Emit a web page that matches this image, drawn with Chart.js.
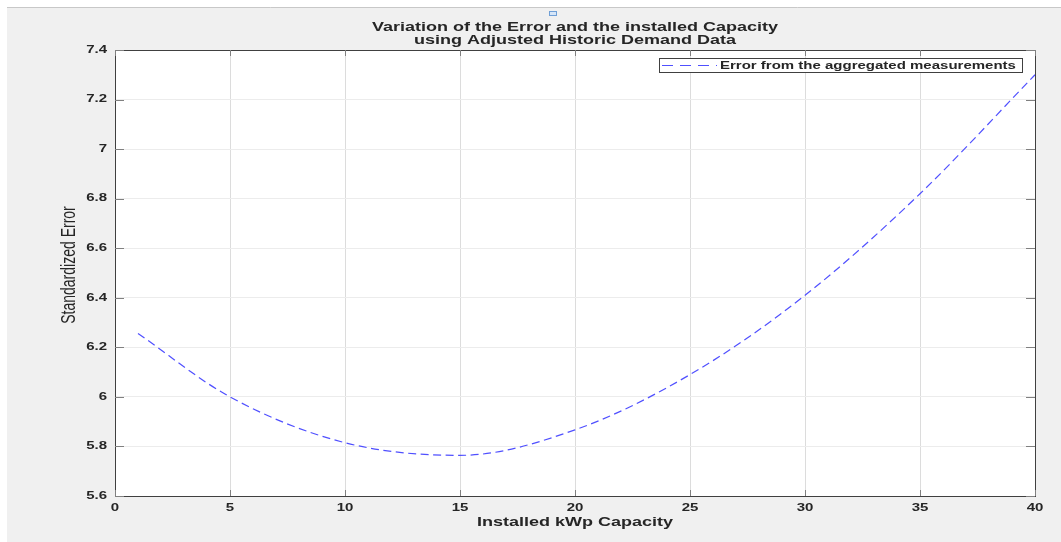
<!DOCTYPE html>
<html>
<head>
<meta charset="utf-8">
<script src="https://cdn.jsdelivr.net/npm/chart.js@4.4.1/dist/chart.umd.min.js"></script>
<style>
  html, body { margin: 0; padding: 0; background: #ffffff; overflow: hidden; }
  #wrap { width: 1061px; height: 542px; }
</style>
</head>
<body>
<div id="wrap"><canvas id="c" width="1061" height="542"></canvas></div>
<script>
// Series: standardized error versus installed PV capacity
const capacityKWp = [1, 5, 10, 15, 20, 25, 30, 35, 40];
const standardizedError = [6.256, 6.0, 5.815, 5.764, 5.867, 6.09, 6.41, 6.82, 7.30];

// Axis ticks
const xTickValues = [0, 5, 10, 15, 20, 25, 30, 35, 40];
const xTickLabels = ['0', '5', '10', '15', '20', '25', '30', '35', '40'];
const yTickValues = [5.6, 5.8, 6.0, 6.2, 6.4, 6.6, 6.8, 7.0, 7.2, 7.4];
const yTickLabels = ['5.6', '5.8', '6', '6.2', '6.4', '6.6', '6.8', '7', '7.2', '7.4'];

// Texts
const titleLines = ['Variation of the Error and the installed Capacity', 'using Adjusted Historic Demand Data'];
const xAxisTitle = 'Installed kWp Capacity';
const yAxisTitle = 'Standardized Error';
const seriesName = 'Error from the aggregated measurements';

const FONT = '"Liberation Sans", Arial, Helvetica, sans-serif';
const TEXT_COLOR = '#262626';
const SX = 1.5; // wide lettering used for all figure text
const LINE_COLOR = '#5050ff';
const LINE_DASH = [8, 4.5];
const LEGEND_DASH = [11, 7];

function wideText(ctx, text, x, y, font, align, baseline, sx) {
  ctx.save();
  ctx.font = font;
  ctx.fillStyle = TEXT_COLOR;
  ctx.textAlign = align;
  ctx.textBaseline = baseline;
  ctx.translate(x, y);
  ctx.scale(sx, 1);
  ctx.fillText(text, 0, 0);
  ctx.restore();
}

const figurePlugin = {
  id: 'figureDecor',
  beforeDraw(chart) {
    const { ctx, chartArea: a } = chart;
    ctx.save();
    ctx.fillStyle = '#ffffff';
    ctx.fillRect(0, 0, chart.width, chart.height);
    ctx.fillStyle = '#f0f0f0';
    ctx.fillRect(7, 7, chart.width - 7, chart.height - 7);
    ctx.strokeStyle = '#c8c8c8';
    ctx.lineWidth = 1;
    ctx.beginPath();
    ctx.moveTo(7, 7.5);
    ctx.lineTo(chart.width, 7.5);
    ctx.stroke();
    ctx.fillStyle = '#ffffff';
    ctx.fillRect(a.left, a.top, a.right - a.left, a.bottom - a.top);
    ctx.restore();
  },
  afterDraw(chart) {
    const { ctx, chartArea: a, scales } = chart;
    const xs = scales.x, ys = scales.y;
    ctx.save();

    // axes box
    ctx.strokeStyle = '#404040';
    ctx.lineWidth = 1;
    ctx.strokeRect(Math.round(a.left) + 0.5, Math.round(a.top) + 0.5,
      Math.round(a.right - a.left), Math.round(a.bottom - a.top));

    // inward tick marks
    ctx.beginPath();
    xTickValues.forEach(v => {
      const px = Math.round(xs.getPixelForValue(v)) + 0.5;
      ctx.moveTo(px, a.bottom); ctx.lineTo(px, a.bottom - 6);
      ctx.moveTo(px, a.top); ctx.lineTo(px, a.top + 6);
    });
    yTickValues.forEach(v => {
      const py = Math.round(ys.getPixelForValue(v)) + 0.5;
      ctx.moveTo(a.left, py); ctx.lineTo(a.left + 9, py);
      ctx.moveTo(a.right, py); ctx.lineTo(a.right - 9, py);
    });
    ctx.strokeStyle = '#808080';
    ctx.stroke();

    // tick labels
    const tickFont = 'bold 10px ' + FONT;
    xTickValues.forEach((v, i) => {
      wideText(ctx, xTickLabels[i], xs.getPixelForValue(v), 511, tickFont, 'center', 'alphabetic', SX);
    });
    yTickValues.forEach((v, i) => {
      wideText(ctx, yTickLabels[i], a.left - 8, ys.getPixelForValue(v), tickFont, 'right', 'middle', SX);
    });

    // title
    const titleFont = 'bold 12px ' + FONT;
    const cx = (a.left + a.right) / 2;
    wideText(ctx, titleLines[0], cx, 30.5, titleFont, 'center', 'alphabetic', SX);
    wideText(ctx, titleLines[1], cx, 43.5, titleFont, 'center', 'alphabetic', SX);

    // axis titles
    wideText(ctx, xAxisTitle, cx, 526, titleFont, 'center', 'alphabetic', SX);
    ctx.save();
    ctx.font = '14px ' + FONT;
    ctx.fillStyle = TEXT_COLOR;
    ctx.textAlign = 'center';
    ctx.textBaseline = 'middle';
    ctx.translate(70, 265);
    ctx.scale(1.4, 1);
    ctx.rotate(-Math.PI / 2);
    ctx.fillText(yAxisTitle, 0, 0);
    ctx.restore();

    // legend
    const lx = 659, ly = 58, lw = 363, lh = 14;
    ctx.fillStyle = '#ffffff';
    ctx.fillRect(lx, ly, lw, lh);
    ctx.strokeStyle = '#404040';
    ctx.strokeRect(lx + 0.5, ly + 0.5, lw, lh);
    ctx.beginPath();
    ctx.setLineDash(LEGEND_DASH);
    ctx.strokeStyle = LINE_COLOR;
    ctx.lineWidth = 1.2;
    ctx.moveTo(lx + 3, ly + lh / 2 + 0.5);
    ctx.lineTo(lx + 58, ly + lh / 2 + 0.5);
    ctx.stroke();
    ctx.setLineDash([]);
    wideText(ctx, seriesName, lx + 61, ly + lh / 2 + 4, 'bold 10px ' + FONT, 'left', 'alphabetic', SX);

    // small figure icon above the title
    ctx.fillStyle = '#d6e6f8';
    ctx.strokeStyle = '#6f9fd6';
    ctx.lineWidth = 1;
    ctx.fillRect(549, 11, 7, 4);
    ctx.strokeRect(549.5, 11.5, 7, 4);
    ctx.restore();
  }
};

new Chart(document.getElementById('c'), {
  type: 'line',
  data: {
    labels: capacityKWp,
    datasets: [{
      label: seriesName,
      data: capacityKWp.map((x, i) => ({ x, y: standardizedError[i] })),
      borderColor: LINE_COLOR,
      borderWidth: 1.2,
      borderDash: LINE_DASH,
      pointRadius: 0,
      fill: false,
      cubicInterpolationMode: 'monotone'
    }]
  },
  options: {
    responsive: false,
    devicePixelRatio: 1,
    animation: false,
    events: [],
    layout: { padding: { top: 50, right: 26, bottom: 0, left: 0 } },
    plugins: { legend: { display: false }, title: { display: false }, tooltip: { enabled: false } },
    scales: {
      x: {
        type: 'linear', min: 0, max: 40,
        afterBuildTicks: s => { s.ticks = xTickValues.map(v => ({ value: v })); },
        afterFit: s => { s.height = 46; },
        ticks: { display: false },
        grid: { color: '#dcdcdc', drawTicks: false, tickLength: 0 },
        border: { display: false }
      },
      y: {
        type: 'linear', min: 5.6, max: 7.4,
        afterBuildTicks: s => { s.ticks = yTickValues.map(v => ({ value: v })); },
        afterFit: s => { s.width = 115; },
        ticks: { display: false },
        grid: { color: '#ececec', drawTicks: false, tickLength: 0 },
        border: { display: false }
      }
    }
  },
  plugins: [figurePlugin]
});
</script>
</body>
</html>
